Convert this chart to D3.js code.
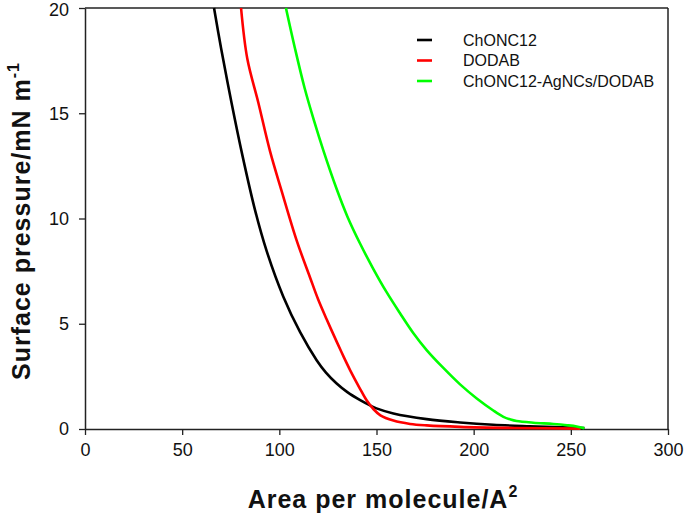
<!DOCTYPE html>
<html>
<head>
<meta charset="utf-8">
<script src="https://d3js.org/d3.v7.min.js"></script>
<style>
  body { margin: 0; background: #fff; }
  text { font-family: "Liberation Sans", Arial, sans-serif; }
</style>
</head>
<body>
<div id="chart"></div>
<script>
// isotherm data (area in A^2, surface pressure in mN/m)
var chonc12Area = [66.4, 70, 75.4, 81, 87.5, 93.5, 102, 110.7, 119.2, 124, 129.5, 135, 141.6, 146.7, 150, 158.7, 175.8, 193, 210, 229, 246, 257];
var chonc12Pi   = [20, 18.1, 15.5, 13.0, 10.4, 8.45, 6.3, 4.6, 3.27, 2.68, 2.16, 1.75, 1.37, 1.12, 0.98, 0.74, 0.47, 0.31, 0.2, 0.13, 0.08, 0.04];

var dodabArea = [80.3, 83.5, 89.2, 95.2, 101.2, 108.9, 115.8, 120, 124.4, 129.5, 133, 136.4, 141.6, 145, 148.4, 152, 158.7, 167.3, 175.8, 193, 220, 255];
var dodabPi   = [20, 17.6, 15.5, 13.2, 11.3, 8.96, 7.2, 6.15, 5.2, 4.15, 3.45, 2.8, 1.9, 1.35, 0.95, 0.65, 0.4, 0.24, 0.17, 0.1, 0.05, 0.02];

var mixArea = [103.4, 108, 113, 118, 122.6, 129.5, 135, 141.6, 148.4, 155.2, 162.1, 169, 175.8, 184.4, 193, 201.6, 210.1, 215.3, 219, 222.1, 230.7, 241, 248, 253, 257];
var mixPi   = [20, 18.1, 16.2, 14.6, 13.25, 11.4, 10.1, 8.8, 7.6, 6.5, 5.5, 4.55, 3.75, 2.9, 2.12, 1.45, 0.88, 0.58, 0.45, 0.38, 0.3, 0.24, 0.18, 0.12, 0.03];

var seriesNames = ["ChONC12", "DODAB", "ChONC12-AgNCs/DODAB"];
var seriesColors = ["#000000", "#ff0000", "#00ff00"];
var xTicks = [0, 50, 100, 150, 200, 250, 300];
var yTicks = [0, 5, 10, 15, 20];

var W = 685, H = 515;
var margin = {top: 8, right: 17, bottom: 86, left: 85};
var width = W - margin.left - margin.right,
    height = H - margin.top - margin.bottom;

var svg = d3.select("#chart").append("svg")
    .attr("width", W).attr("height", H);

var g = svg.append("g")
    .attr("transform", "translate(" + margin.left + "," + margin.top + ")");

var x = d3.scaleLinear().domain([0, 300]).range([0, width]);
var y = d3.scaleLinear().domain([0, 20]).range([height, 0]);

// frame (top and right)
g.append("line").attr("x1", 0).attr("x2", width).attr("y1", 0).attr("y2", 0)
  .attr("stroke", "#222").attr("stroke-width", 1.5);
g.append("line").attr("x1", width).attr("x2", width).attr("y1", 0).attr("y2", height)
  .attr("stroke", "#222").attr("stroke-width", 1.5);

var xAxis = g.append("g")
    .attr("transform", "translate(0," + height + ")")
    .call(d3.axisBottom(x).tickValues(xTicks).tickSize(6).tickPadding(8).tickSizeOuter(0));
var yAxis = g.append("g")
    .call(d3.axisLeft(y).tickValues(yTicks).tickSize(6).tickPadding(10).tickSizeOuter(0));

[xAxis, yAxis].forEach(function(a) {
  a.select(".domain").attr("stroke", "#222").attr("stroke-width", 1.5);
  a.selectAll(".tick line").attr("stroke", "#222").attr("stroke-width", 1.3);
  a.selectAll(".tick text").attr("font-size", "18px").attr("fill", "#111")
    .attr("font-family", "Liberation Sans, Arial, sans-serif");
});
// keep the top label inside the page
yAxis.selectAll(".tick text").filter(function(d) { return d === 20; }).attr("dy", "0.42em");

var series = [
  {area: chonc12Area, pi: chonc12Pi},
  {area: dodabArea, pi: dodabPi},
  {area: mixArea, pi: mixPi}
];

var line = d3.line()
    .x(function(d) { return x(d[0]); })
    .y(function(d) { return y(d[1]); })
    .curve(d3.curveCatmullRom.alpha(0.5));

series.forEach(function(s, i) {
  var pts = s.area.map(function(a, j) { return [a, s.pi[j]]; });
  g.append("path")
    .datum(pts)
    .attr("fill", "none")
    .attr("stroke", seriesColors[i])
    .attr("stroke-width", 2.6)
    .attr("d", line);
});

// legend
var legend = svg.append("g").attr("transform", "translate(417,40)");
seriesNames.forEach(function(n, i) {
  var row = legend.append("g").attr("transform", "translate(0," + (i * 20.5) + ")");
  row.append("line").attr("x1", 0).attr("x2", 15).attr("y1", 0).attr("y2", 0)
    .attr("stroke", seriesColors[i]).attr("stroke-width", 2.6);
  row.append("text").attr("x", 46).attr("y", 5.5)
    .attr("font-size", "16px").attr("fill", "#111").text(n);
});

// axis titles
var xt = svg.append("text")
    .attr("x", 383).attr("y", 508)
    .attr("text-anchor", "middle")
    .attr("font-size", "25px").attr("font-weight", "bold")
    .attr("letter-spacing", "1px").attr("fill", "#111");
xt.append("tspan").text("Area per molecule/A");
xt.append("tspan").attr("dy", -11).attr("font-size", "16px").text("2");

var yt = svg.append("text")
    .attr("transform", "translate(30,221) rotate(-90)")
    .attr("text-anchor", "middle")
    .attr("font-size", "25px").attr("font-weight", "bold")
    .attr("letter-spacing", "1px").attr("fill", "#111");
yt.append("tspan").text("Surface pressure/mN m");
yt.append("tspan").attr("dy", -11).attr("font-size", "16px").text("-1");
</script>
</body>
</html>
